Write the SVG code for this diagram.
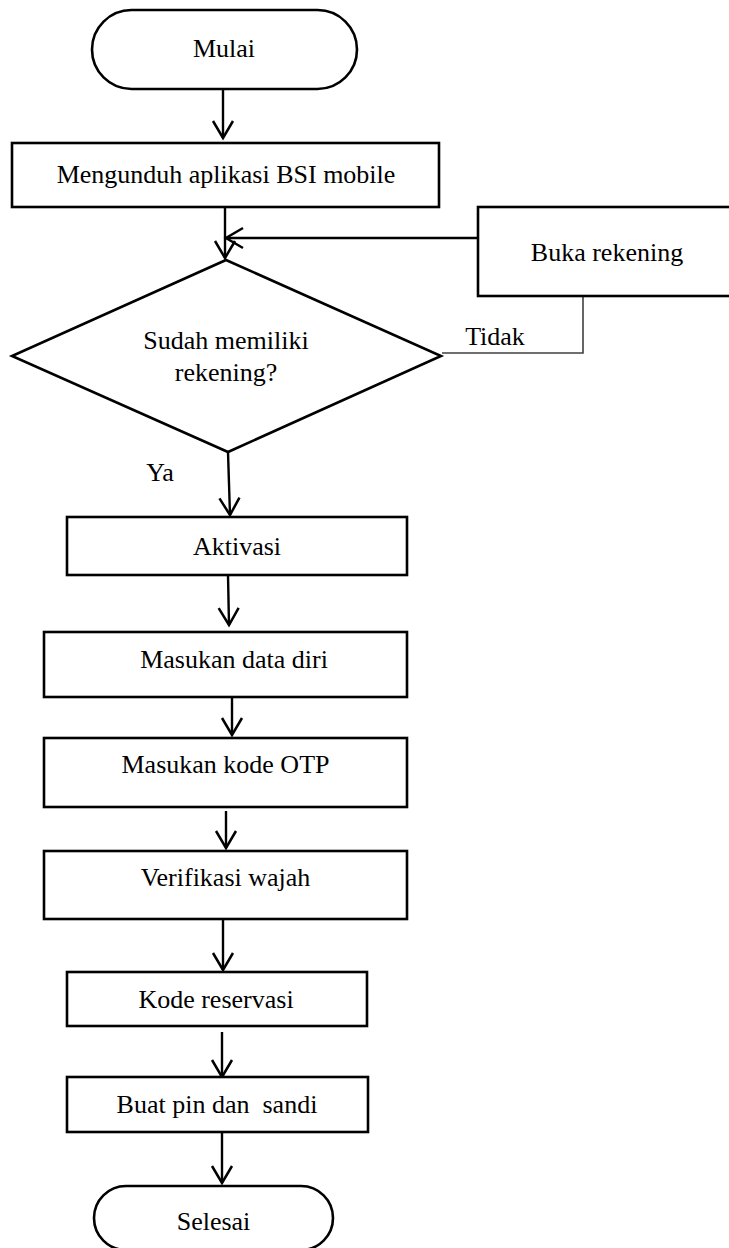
<svg xmlns="http://www.w3.org/2000/svg" width="729" height="1248" viewBox="0 0 729 1248">
<style>
  .shape { fill: #ffffff; stroke: #000000; stroke-width: 2.6; }
  .conn { fill: none; stroke: #000000; stroke-width: 2.4; }
  .thin { fill: none; stroke: #404040; stroke-width: 1.6; }
  .lbl { font-family: "Liberation Serif", "Times New Roman", serif; font-size: 26px; fill: #000000; text-anchor: middle; }
</style>
<defs>
  <marker id="arr" viewBox="-20 -12 24 24" refX="0" refY="0" markerWidth="24" markerHeight="24" markerUnits="userSpaceOnUse" orient="auto" overflow="visible">
    <path d="M-17,-10 L0,0 L-17,10" fill="none" stroke="#000000" stroke-width="2.5"/>
  </marker>
</defs>
<rect width="729" height="1248" fill="#ffffff"/>

<g id="connectors">
  <line class="conn" x1="223" y1="89" x2="223" y2="138" marker-end="url(#arr)"/>
  <line class="conn" x1="225" y1="207" x2="225" y2="258" marker-end="url(#arr)"/>
  <line class="conn" x1="478" y1="238" x2="226" y2="238" marker-end="url(#arr)"/>
  <polyline class="thin" points="583,296 583,353 442,353"/>
  <line class="conn" x1="228" y1="452" x2="230" y2="515" marker-end="url(#arr)"/>
  <line class="conn" x1="228" y1="575" x2="229" y2="625" marker-end="url(#arr)"/>
  <line class="conn" x1="232" y1="697" x2="232" y2="735" marker-end="url(#arr)"/>
  <line class="conn" x1="226" y1="811" x2="226" y2="848" marker-end="url(#arr)"/>
  <line class="conn" x1="223" y1="919" x2="223" y2="970" marker-end="url(#arr)"/>
  <line class="conn" x1="222" y1="1032" x2="222" y2="1077" marker-end="url(#arr)"/>
  <line class="conn" x1="222" y1="1132" x2="222" y2="1183" marker-end="url(#arr)"/>
  <text class="lbl" x="495" y="345">Tidak</text>
  <text class="lbl" x="160" y="481">Ya</text>
</g>

<g id="mulai">
  <rect class="shape" x="92" y="10" width="265" height="79" rx="39.5" ry="39.5"/>
  <text class="lbl" x="224" y="57">Mulai</text>
</g>
<g id="mengunduh">
  <rect class="shape" x="12" y="143" width="427" height="64"/>
  <text class="lbl" x="226" y="183">Mengunduh aplikasi BSI mobile</text>
</g>
<g id="buka-rekening">
  <rect class="shape" x="478" y="207" width="270" height="89"/>
  <text class="lbl" x="607" y="261">Buka rekening</text>
</g>
<g id="decision">
  <polygon class="shape" points="226,260 441,356 228,452 12,356"/>
  <text class="lbl" x="226" y="349">Sudah memiliki</text>
  <text class="lbl" x="226" y="381">rekening?</text>
</g>
<g id="aktivasi">
  <rect class="shape" x="67" y="517" width="340" height="58"/>
  <text class="lbl" x="237" y="555">Aktivasi</text>
</g>
<g id="data-diri">
  <rect class="shape" x="44" y="632" width="363" height="65"/>
  <text class="lbl" x="234" y="668">Masukan data diri</text>
</g>
<g id="otp">
  <rect class="shape" x="44" y="738" width="363" height="69"/>
  <text class="lbl" x="225.5" y="773">Masukan kode OTP</text>
</g>
<g id="verifikasi">
  <rect class="shape" x="44" y="851" width="363" height="68"/>
  <text class="lbl" x="225.5" y="886">Verifikasi wajah</text>
</g>
<g id="kode-reservasi">
  <rect class="shape" x="67" y="972" width="300" height="54"/>
  <text class="lbl" x="216" y="1008">Kode reservasi</text>
</g>
<g id="buat-pin">
  <rect class="shape" x="67" y="1077" width="301" height="55"/>
  <text class="lbl" x="217" y="1113" xml:space="preserve">Buat pin dan  sandi</text>
</g>
<g id="selesai">
  <rect class="shape" x="94" y="1186" width="239" height="64" rx="32" ry="32"/>
  <text class="lbl" x="213.5" y="1230">Selesai</text>
</g>
</svg>
